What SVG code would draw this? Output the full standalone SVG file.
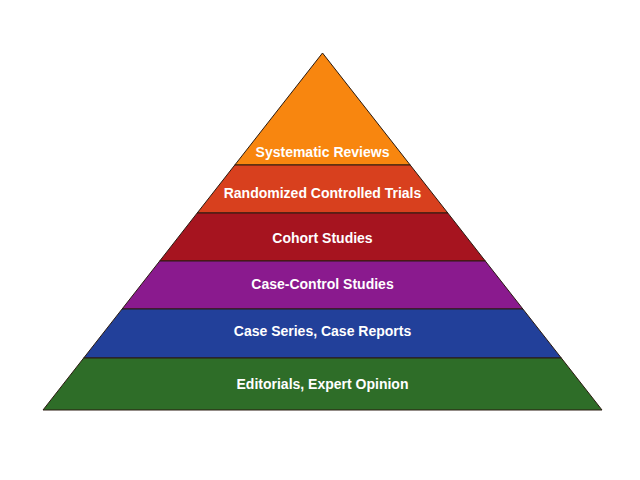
<svg xmlns="http://www.w3.org/2000/svg" width="640" height="480" viewBox="0 0 640 480">
<style>
.band{stroke:#2a1a10;stroke-width:1;stroke-linejoin:miter}
.lbl{font-family:"Liberation Sans",Arial,sans-serif;font-weight:bold;font-size:14px;fill:#ffffff;text-anchor:middle}
</style>
<rect width="640" height="480" fill="#ffffff"/>
<g id="systematic-reviews">
<polygon class="band" fill="#F8860F" points="322.5,53 410.2,165 234.8,165"/>
<text class="lbl" x="322.5" y="157">Systematic Reviews</text>
</g>
<g id="randomized-controlled-trials">
<polygon class="band" fill="#D8401E" points="234.8,165 410.2,165 447.8,213 197.2,213"/>
<text class="lbl" x="322.5" y="198">Randomized Controlled Trials</text>
</g>
<g id="cohort-studies">
<polygon class="band" fill="#A6141F" points="197.2,213 447.8,213 485.3,261 159.7,261"/>
<text class="lbl" x="322.5" y="243">Cohort Studies</text>
</g>
<g id="case-control-studies">
<polygon class="band" fill="#8A1A8E" points="159.7,261 485.3,261 522.9,309 122.1,309"/>
<text class="lbl" x="322.5" y="289">Case-Control Studies</text>
</g>
<g id="case-series">
<polygon class="band" fill="#22409A" points="122.1,309 522.9,309 561.3,358 83.7,358"/>
<text class="lbl" x="322.5" y="336">Case Series, Case Reports</text>
</g>
<g id="editorials">
<polygon class="band" fill="#2E6D28" points="83.7,358 561.3,358 602,410 43,410"/>
<text class="lbl" x="322.5" y="389">Editorials, Expert Opinion</text>
</g>
<g id="connectors"></g>
</svg>
